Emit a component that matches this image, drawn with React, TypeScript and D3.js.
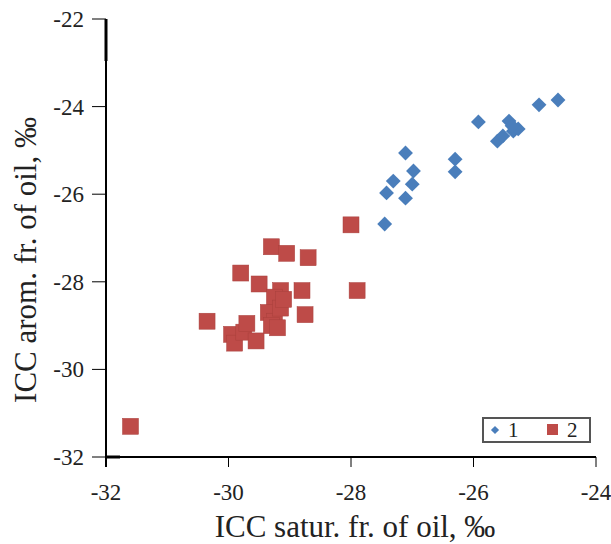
import React from "react";
import * as d3 from "d3";

const series1X = [-27.45, -27.42, -27.11, -27.31, -27.0, -26.98, -27.11, -26.3, -26.3, -25.92, -25.61, -25.52, -25.42, -25.35, -25.27, -25.37, -24.93, -24.62];
const series1Y = [-26.68, -25.97, -26.09, -25.7, -25.77, -25.47, -25.06, -25.2, -25.49, -24.35, -24.79, -24.67, -24.33, -24.56, -24.51, -24.44, -23.96, -23.85];

const series2X = [-31.6, -30.35, -29.95, -29.9, -29.75, -29.7, -29.55, -29.8, -29.5, -29.3, -29.05, -28.7, -29.15, -29.25, -29.35, -29.25, -29.15, -29.1, -29.3, -28.8, -28.75, -28.0, -27.9, -29.2];
const series2Y = [-31.3, -28.9, -29.2, -29.4, -29.15, -28.95, -29.35, -27.8, -28.05, -27.2, -27.35, -27.45, -28.2, -28.35, -28.7, -28.9, -28.6, -28.4, -29.0, -28.2, -28.75, -26.7, -28.2, -29.05];

const xTicks = [-32, -30, -28, -26, -24];
const yTicks = [-22, -24, -26, -28, -30, -32];
const legendLabels = ["1", "2"];
const xTitle = "ICC satur. fr. of oil, ‰";
const yTitle = "ICC arom. fr. of oil, ‰";

const BLUE = "#4a7ebb";
const RED = "#be4b48";
const FONT = "'Liberation Serif', 'Times New Roman', serif";

export default function App() {
  const x = d3.scaleLinear().domain([-32, -24]).range([106, 596]);
  const y = d3.scaleLinear().domain([-32, -22]).range([457, 19]);
  const diamond = d3.symbol().type(d3.symbolSquare).size(110)();
  const s1 = series1X.map((v, i) => ({ x: v, y: series1Y[i] }));
  const s2 = series2X.map((v, i) => ({ x: v, y: series2Y[i] }));
  const sq = 16;
  const x0 = x(-32);
  const y0 = y(-32);
  return (
    <svg width={611} height={544} style={{ position: "absolute", left: 0, top: 0, background: "#fff" }}>
      {/* axes */}
      <line x1={x0} x2={x(-24)} y1={y0} y2={y0} stroke="#000" strokeWidth={2} />
      <line x1={x0} x2={x0 + 14} y1={y0} y2={y0} stroke="#000" strokeWidth={3} />
      <line x1={x0} x2={x0} y1={y(-22)} y2={y0 + 10} stroke="#000" strokeWidth={2} />
      <line x1={x0} x2={x0} y1={y(-22)} y2={y(-22) + 42} stroke="#000" strokeWidth={3} />
      {xTicks.map((t) => (
        <g key={"xt" + t}>
          <line x1={x(t)} x2={x(t)} y1={y0} y2={y0 + 10} stroke="#000" strokeWidth={1} />
          <text x={x(t)} y={500} textAnchor="middle" fontFamily={FONT} fontSize={23} fill="#222">{t}</text>
        </g>
      ))}
      {yTicks.map((t) => (
        <g key={"yt" + t}>
          <line x1={x0 - 14} x2={x0} y1={y(t)} y2={y(t)} stroke="#000" strokeWidth={1} />
          <text x={x0 - 22} y={y(t) + 8} textAnchor="end" fontFamily={FONT} fontSize={23} fill="#222">{t}</text>
        </g>
      ))}
      <text x={355} y={537} textAnchor="middle" fontFamily={FONT} fontSize={31} fill="#222">{xTitle}</text>
      <text transform={`translate(36,260) rotate(-90)`} textAnchor="middle" fontFamily={FONT} fontSize={31} fill="#222">{yTitle}</text>
      {/* series 2 squares */}
      {s2.map((d, i) => (
        <rect key={"r" + i} x={x(d.x) - sq / 2} y={y(d.y) - sq / 2} width={sq} height={sq} fill={RED} stroke="#a9403d" strokeWidth={0.5} />
      ))}
      {/* series 1 diamonds */}
      {s1.map((d, i) => (
        <path key={"b" + i} d={diamond as string} transform={`translate(${x(d.x)},${y(d.y)}) rotate(45)`} fill={BLUE} />
      ))}
      {/* legend */}
      <g>
        <rect x={483} y={418} width={107} height={24} fill="#fff" stroke="#555" strokeWidth={2} />
        <path d={d3.symbol().type(d3.symbolSquare).size(34)() as string} transform={`translate(495,430) rotate(45)`} fill={BLUE} />
        <text x={508} y={437} fontFamily={FONT} fontSize={21} fill="#222">{legendLabels[0]}</text>
        <rect x={547} y={424} width={11} height={11} fill={RED} />
        <text x={567} y={437} fontFamily={FONT} fontSize={21} fill="#222">{legendLabels[1]}</text>
      </g>
    </svg>
  );
}
